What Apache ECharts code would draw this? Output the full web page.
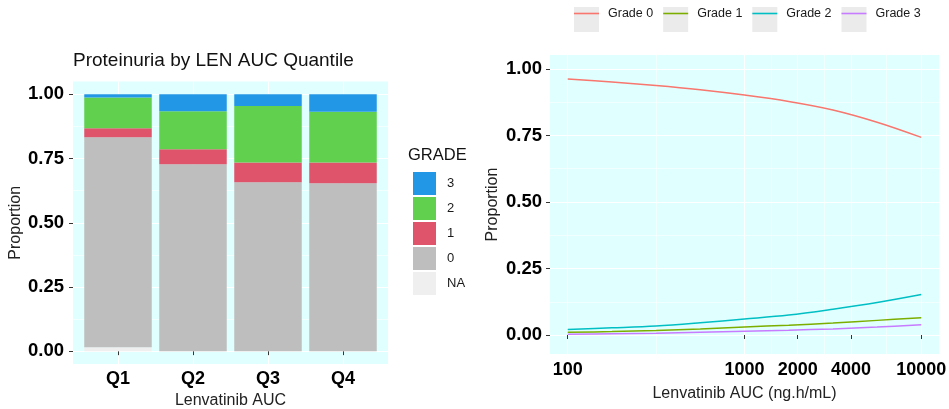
<!DOCTYPE html>
<html>
<head>
<meta charset="utf-8">
<script src="https://cdn.jsdelivr.net/npm/echarts@6/dist/echarts.min.js"></script>
<style>
  html, body { margin: 0; padding: 0; background: #ffffff; }
  #chart { width: 949px; height: 409px; }
</style>
</head>
<body>
<div id="chart"></div>
<script>
// ---- Left panel: proteinuria grade share per LEN AUC quartile ----
const quantiles = ['Q1', 'Q2', 'Q3', 'Q4'];
const gradeNA = [0.015, 0, 0, 0];
const grade0 = [0.818, 0.728, 0.658, 0.654];
const grade1 = [0.035, 0.058, 0.077, 0.081];
const grade2 = [0.120, 0.148, 0.220, 0.197];
const grade3 = [0.012, 0.066, 0.045, 0.068];
const propTicks = [0, 0.25, 0.5, 0.75, 1];

// ---- Right panel: predicted probability of each grade vs AUC ----
const aucPoints = [100, 178, 316, 562, 1000, 1778, 3162, 5623, 10000];
const probGrade0 = [0.962, 0.951, 0.938, 0.922, 0.902, 0.878, 0.846, 0.800, 0.743];
const probGrade1 = [0.010, 0.013, 0.017, 0.023, 0.030, 0.037, 0.045, 0.055, 0.065];
const probGrade2 = [0.021, 0.027, 0.034, 0.046, 0.060, 0.075, 0.097, 0.122, 0.152];
const probGrade3 = [0.003, 0.005, 0.007, 0.010, 0.014, 0.018, 0.023, 0.030, 0.039];
const aucTicks = [100, 1000, 2000, 4000, 10000];

const FONT = "'Liberation Sans', Arial, sans-serif";
const PANEL_BG = '#e0ffff';

// helpers
const mids = arr => arr.slice(1).map((v, i) => (v + arr[i]) / 2);
const log10 = Math.log10;
const aucTickLogs = aucTicks.map(log10);
const aucMinorLogs = mids(aucTickLogs);
const propMinor = mids(propTicks);
const qPositions = quantiles.map((q, i) => i + 1);

const barColors = { NA: '#efefef', '0': '#bebebe', '1': '#df536b', '2': '#61d04f', '3': '#2297e6' };
const lineColors = ['#f8766d', '#7cae00', '#00bfc4', '#c77cff'];

function barSeries(name, values) {
  return {
    name: name,
    type: 'bar',
    stack: 'grade',
    xAxisIndex: 3,
    yAxisIndex: 4,
    barWidth: '90%',
    itemStyle: { color: barColors[name] },
    emphasis: { disabled: true },
    data: values
  };
}

function lineSeries(name, values, color) {
  return {
    name: name,
    type: 'line',
    xAxisIndex: 1,
    yAxisIndex: 2,
    symbol: 'none',
    smooth: 0.35,
    lineStyle: { color: color, width: 1.5 },
    itemStyle: { color: color },
    emphasis: { disabled: true },
    data: aucPoints.map((a, i) => [log10(a), values[i]])
  };
}

const tickLabel = { color: '#000', fontFamily: FONT, fontWeight: 'bold', fontSize: 18.5 };
const axisNameStyle = { color: '#222', fontFamily: FONT, fontSize: 16 };
const majorGrid = { show: true, lineStyle: { color: '#ffffff', width: 1.1 } };
const minorGrid = { show: true, lineStyle: { color: '#ffffff', width: 0.55 } };
const tickStyle = { show: true, length: 4, lineStyle: { color: '#333', width: 1 } };
const hidden = {
  axisLine: { show: false }, axisTick: { show: false },
  axisLabel: { show: false }, splitLine: { show: false }
};

const lineNames = ['Grade 0', 'Grade 1', 'Grade 2', 'Grade 3'];
const legendCommon = {
  orient: 'horizontal',
  left: 569,
  top: 2,
  itemWidth: 25,
  itemHeight: 25,
  itemGap: 10,
  selectedMode: false,
  data: lineNames,
  textStyle: { fontFamily: FONT, fontSize: 12.5, color: '#1a1a1a', padding: [0, 0, 0, 4] }
};

const option = {
  animation: false,
  backgroundColor: '#ffffff',
  title: [
    {
      text: 'Proteinuria by LEN AUC Quantile',
      left: 68, top: 46,
      textStyle: { fontFamily: FONT, fontSize: 19, fontWeight: 'normal', color: '#111' }
    },
    {
      text: 'GRADE',
      left: 403, top: 142,
      textStyle: { fontFamily: FONT, fontSize: 16.5, fontWeight: 'normal', color: '#111' }
    }
  ],
  legend: [
    {
      orient: 'vertical',
      left: 408,
      top: 167,
      itemWidth: 23,
      itemHeight: 23,
      itemGap: 2,
      icon: 'rect',
      selectedMode: false,
      data: ['3', '2', '1', '0', 'NA'],
      textStyle: { fontFamily: FONT, fontSize: 13, color: '#1a1a1a', padding: [0, 0, 0, 6] }
    },
    // grey key backgrounds behind the line keys
    Object.assign({}, legendCommon, {
      z: 3,
      icon: 'rect',
      itemStyle: { color: '#ebebeb', borderWidth: 0 },
      textStyle: Object.assign({}, legendCommon.textStyle, { color: 'rgba(0,0,0,0)' })
    }),
    // line keys with their labels
    Object.assign({}, legendCommon, {
      z: 4,
      icon: 'path://M0,0L25,0L25,1.6L0,1.6Z'
    })
  ],
  grid: [
    { left: 73, top: 81.5, width: 315, height: 282.5, show: true, backgroundColor: PANEL_BG, borderWidth: 0, outerBoundsMode: 'none', containLabel: false },
    { left: 550, top: 55, width: 389, height: 299, show: true, backgroundColor: PANEL_BG, borderWidth: 0, outerBoundsMode: 'none', containLabel: false },
    { left: 80.5, top: 81.5, width: 300, height: 282.5, show: false, outerBoundsMode: 'none', containLabel: false }
  ],
  xAxis: [
    {
      // quartile positions on the left panel (labels, ticks, grid)
      type: 'value', gridIndex: 0, min: 0.4, max: 4.6,
      name: 'Lenvatinib AUC', nameLocation: 'middle', nameGap: 27, nameTextStyle: axisNameStyle,
      axisLine: { show: false },
      axisTick: Object.assign({}, tickStyle, { customValues: qPositions }),
      axisLabel: Object.assign({}, tickLabel, {
        fontSize: 18, margin: 6,
        customValues: qPositions,
        formatter: v => quantiles[Math.round(v) - 1]
      }),
      splitLine: majorGrid
    },
    {
      type: 'value', gridIndex: 1, min: 1.9, max: 4.1,
      name: 'Lenvatinib AUC (ng.h/mL)', nameLocation: 'middle', nameGap: 32, nameTextStyle: axisNameStyle,
      axisLine: { show: false },
      axisTick: Object.assign({}, tickStyle, { customValues: aucTickLogs }),
      axisLabel: Object.assign({}, tickLabel, {
        fontSize: 18, margin: 7,
        customValues: aucTickLogs,
        formatter: v => String(Math.round(Math.pow(10, v)))
      }),
      splitLine: majorGrid
    },
    {
      // minor vertical grid lines between the major AUC breaks
      type: 'value', gridIndex: 1, min: 1.9, max: 4.1,
      axisLine: { show: false },
      axisTick: { show: false, customValues: aucMinorLogs },
      axisLabel: { show: false },
      splitLine: minorGrid
    },
    Object.assign({ type: 'category', gridIndex: 2, data: quantiles }, hidden)
  ],
  yAxis: [
    {
      type: 'value', gridIndex: 0, min: -0.05, max: 1.05,
      name: 'Proportion', nameLocation: 'middle', nameGap: 48, nameTextStyle: axisNameStyle,
      axisLine: { show: false },
      axisTick: Object.assign({}, tickStyle, { customValues: propTicks }),
      axisLabel: Object.assign({}, tickLabel, {
        margin: 9,
        customValues: propTicks,
        formatter: v => v.toFixed(2)
      }),
      splitLine: majorGrid
    },
    {
      type: 'value', gridIndex: 0, min: -0.05, max: 1.05, position: 'left',
      axisLine: { show: false },
      axisTick: { show: false, customValues: propMinor },
      axisLabel: { show: false },
      splitLine: minorGrid
    },
    {
      type: 'value', gridIndex: 1, min: -0.0714, max: 1.0526,
      name: 'Proportion', nameLocation: 'middle', nameGap: 49, nameTextStyle: axisNameStyle,
      axisLine: { show: false },
      axisTick: Object.assign({}, tickStyle, { customValues: propTicks }),
      axisLabel: Object.assign({}, tickLabel, {
        margin: 8,
        customValues: propTicks,
        formatter: v => v.toFixed(2)
      }),
      splitLine: majorGrid
    },
    {
      type: 'value', gridIndex: 1, min: -0.0714, max: 1.0526, position: 'left',
      axisLine: { show: false },
      axisTick: { show: false, customValues: propMinor },
      axisLabel: { show: false },
      splitLine: minorGrid
    },
    Object.assign({ type: 'value', gridIndex: 2, min: -0.05, max: 1.05 }, hidden)
  ],
  series: [
    barSeries('NA', gradeNA),
    barSeries('0', grade0),
    barSeries('1', grade1),
    barSeries('2', grade2),
    barSeries('3', grade3),
    lineSeries('Grade 0', probGrade0, lineColors[0]),
    lineSeries('Grade 1', probGrade1, lineColors[1]),
    lineSeries('Grade 2', probGrade2, lineColors[2]),
    lineSeries('Grade 3', probGrade3, lineColors[3])
  ]
};

const chart = echarts.init(document.getElementById('chart'), null, { renderer: 'canvas' });
chart.setOption(option);
</script>
</body>
</html>
